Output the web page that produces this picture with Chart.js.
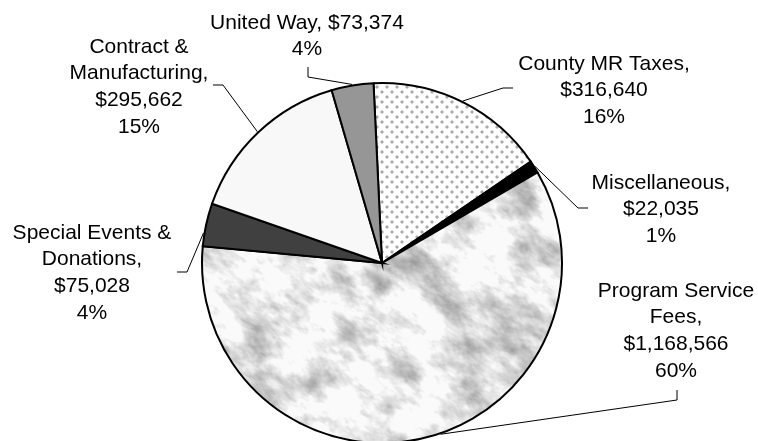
<!DOCTYPE html>
<html>
<head>
<meta charset="utf-8">
<script src="https://cdn.jsdelivr.net/npm/chart.js@4/dist/chart.umd.min.js"></script>
<style>
  html, body { margin: 0; padding: 0; background: #ffffff; }
  #c { display: block; }
</style>
</head>
<body>
<canvas id="c" width="758" height="441"></canvas>
<script>
// ---- data ----
const categories = ['County MR Taxes', 'Miscellaneous', 'Program Service Fees', 'Special Events & Donations', 'Contract & Manufacturing', 'United Way'];
const amounts = [316640, 22035, 1168566, 75028, 295662, 73374];
const amountLabels = ['$316,640', '$22,035', '$1,168,566', '$75,028', '$295,662', '$73,374'];
const percentLabels = ['16%', '1%', '60%', '4%', '15%', '4%'];
// how each category name wraps in its label
const nameLines = [
  ['County MR Taxes,'],
  ['Miscellaneous,'],
  ['Program Service', 'Fees,'],
  ['Special Events &', 'Donations,'],
  ['Contract &', 'Manufacturing,'],
  ['United Way, $73,374']
];
const valueOnNameLine = [false, false, false, false, false, true];

// ---- layout (label placement, leader lines) ----
const labelCenter = [[604, 62], [661, 181], [676, 289], [92, 231], [139, 45], [307, 21]];
const lineGap = 26.8;
const leaderFrac = [0.5, 0.5, 0.47, 0.3, 0.5, 0.5];
const leaderElbow = [[503, 88], [578, 208], [677, 400], [187, 272], [223, 85], [308, 77]];
const leaderEnd = [[513, 88], [588, 208], [677, 390], [177, 272], [213, 85], [308, 67]];

// ---- fills ----
function makeTile(w, h) {
  const c = document.createElement('canvas');
  c.width = w; c.height = h;
  return c;
}
function dotPattern() {
  const t = makeTile(10, 10);
  const g = t.getContext('2d');
  g.fillStyle = '#ffffff';
  g.fillRect(0, 0, 10, 10);
  g.fillStyle = '#aaaaaa';
  g.fillRect(1, 1, 2, 2);
  g.fillRect(6, 6, 2, 2);
  g.fillStyle = '#d4d4d4';
  g.fillRect(0, 1, 1, 2); g.fillRect(3, 1, 1, 2); g.fillRect(1, 0, 2, 1); g.fillRect(1, 3, 2, 1);
  g.fillRect(5, 6, 1, 2); g.fillRect(8, 6, 1, 2); g.fillRect(6, 5, 2, 1); g.fillRect(6, 8, 2, 1);
  return g.createPattern(t, 'repeat');
}
function hash(ix, iy, s) {
  let h = Math.imul(ix, 374761393) + Math.imul(iy, 668265263) + Math.imul(s, 982451653);
  h = Math.imul(h ^ (h >>> 13), 1274126177);
  h = h ^ (h >>> 16);
  return ((h >>> 0) % 10000) / 10000;
}
function vnoise(x, y, s) {
  const x0 = Math.floor(x), y0 = Math.floor(y);
  const fx = x - x0, fy = y - y0;
  const sx = fx * fx * (3 - 2 * fx), sy = fy * fy * (3 - 2 * fy);
  const a = hash(x0, y0, s), b = hash(x0 + 1, y0, s);
  const c = hash(x0, y0 + 1, s), d = hash(x0 + 1, y0 + 1, s);
  return a + (b - a) * sx + (c - a) * sy + (a - b - c + d) * sx * sy;
}
function marblePattern() {
  const W = 758, H = 441;
  const t = makeTile(W, H);
  const g = t.getContext('2d');
  const img = g.createImageData(W, H);
  const ca = Math.cos(-0.6), sa = Math.sin(-0.6);
  for (let y = 0; y < H; y++) {
    for (let x = 0; x < W; x++) {
      const u = (x * ca - y * sa) / 34;
      const w = (x * sa + y * ca) / 20;
      let v = 0, amp = 1, tot = 0, f = 1;
      for (let o = 0; o < 4; o++) {
        v += amp * vnoise(u * f + 11.3 * o, w * f + 7.1 * o, o + 1);
        tot += amp; amp *= 0.6; f *= 2.2;
      }
      v /= tot;
      let gv = 232 - (v - 0.5) * 190;
      gv = Math.max(145, Math.min(250, gv));
      const i = (y * W + x) * 4;
      img.data[i] = img.data[i + 1] = img.data[i + 2] = gv;
      img.data[i + 3] = 255;
    }
  }
  g.putImageData(img, 0, 0);
  return g.createPattern(t, 'no-repeat');
}

const fills = [dotPattern(), '#000000', marblePattern(), '#404040', '#f8f8f8', '#969696'];

const labelsPlugin = {
  id: 'pieLabels',
  afterDraw(chart) {
    const ctx = chart.ctx;
    const meta = chart.getDatasetMeta(0);
    ctx.save();
    ctx.strokeStyle = '#000000';
    ctx.lineWidth = 1;
    meta.data.forEach((arc, i) => {
      const p = arc.getProps(['x', 'y', 'startAngle', 'endAngle', 'outerRadius'], true);
      const a = p.startAngle + leaderFrac[i] * (p.endAngle - p.startAngle);
      const sx = p.x + (p.outerRadius + 1) * Math.cos(a);
      const sy = p.y + (p.outerRadius + 1) * Math.sin(a);
      ctx.beginPath();
      ctx.moveTo(sx, sy);
      ctx.lineTo(leaderElbow[i][0], leaderElbow[i][1]);
      ctx.lineTo(leaderEnd[i][0], leaderEnd[i][1]);
      ctx.stroke();
    });
    ctx.fillStyle = '#000000';
    ctx.font = '21px "Liberation Sans", Arial, sans-serif';
    ctx.textAlign = 'center';
    ctx.textBaseline = 'alphabetic';
    categories.forEach((cat, i) => {
      const lines = nameLines[i].slice();
      if (!valueOnNameLine[i]) lines.push(amountLabels[i]);
      lines.push(percentLabels[i]);
      lines.forEach((ln, k) => {
        ctx.fillText(ln, labelCenter[i][0], labelCenter[i][1] + k * lineGap + 7.5);
      });
    });
    ctx.restore();
  }
};

new Chart(document.getElementById('c'), {
  type: 'pie',
  data: {
    labels: categories,
    datasets: [{
      data: amounts,
      backgroundColor: fills,
      borderColor: '#000000',
      borderWidth: 2,
      borderJoinStyle: 'miter'
    }]
  },
  options: {
    responsive: false,
    devicePixelRatio: 1,
    animation: false,
    rotation: -2.7,
    radius: 180,
    layout: { padding: { left: 6, right: 0, top: 85, bottom: 0 } },
    plugins: {
      legend: { display: false },
      tooltip: { enabled: false }
    }
  },
  plugins: [labelsPlugin]
});
</script>
</body>
</html>
